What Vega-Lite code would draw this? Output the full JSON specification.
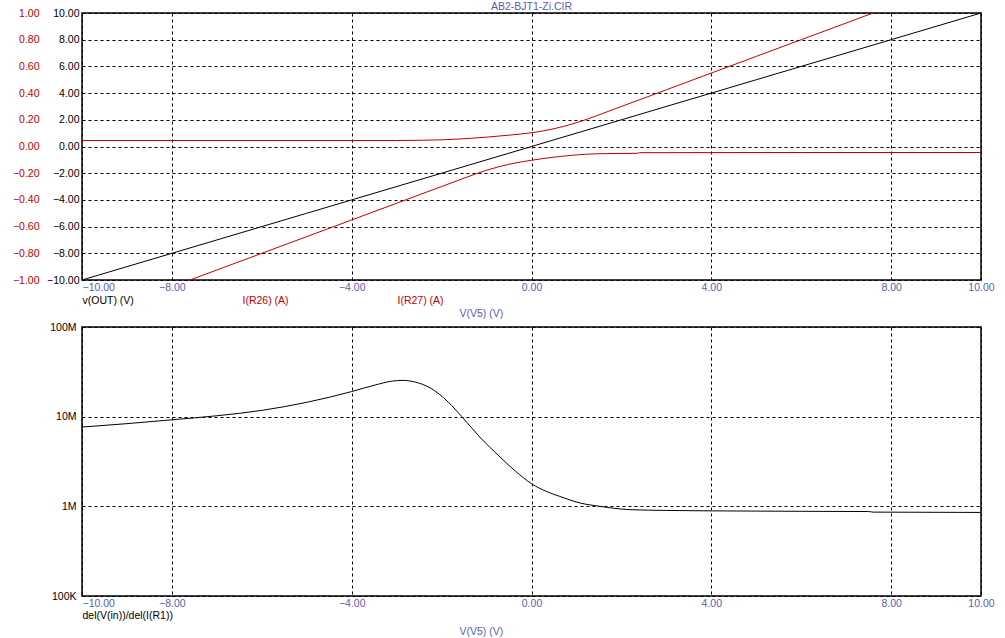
{
  "$schema": "https://vega.github.io/schema/vega-lite/v6.json",
  "background": "white",
  "padding": {"left": 11, "top": 0, "right": 5, "bottom": 2},
  "config": {
    "font": "Liberation Sans",
    "view": {"stroke": "black", "strokeWidth": 1.5},
    "axis": {
      "labelFont": "Liberation Sans",
      "labelFontSize": 10.5,
      "titleFont": "Liberation Sans",
      "titleFontSize": 10.5,
      "titleFontWeight": "normal",
      "ticks": false,
      "domain": false,
      "gridColor": "black",
      "gridDash": [3, 3],
      "gridOpacity": 1,
      "gridWidth": 1,
      "labelFlush": false,
      "labelOverlap": false
    }
  },
  "datasets": {
    "top": [
      {"s": "v(OUT) (V)", "v": -10, "y": -10},
      {"s": "v(OUT) (V)", "v": -5, "y": -5},
      {"s": "v(OUT) (V)", "v": 0, "y": 0},
      {"s": "v(OUT) (V)", "v": 5, "y": 5},
      {"s": "v(OUT) (V)", "v": 10, "y": 10},
      {"s": "I(R26) (A)", "v": -10, "y": 0.045},
      {"s": "I(R26) (A)", "v": -6, "y": 0.045},
      {"s": "I(R26) (A)", "v": -3, "y": 0.045},
      {"s": "I(R26) (A)", "v": -2.4, "y": 0.047},
      {"s": "I(R26) (A)", "v": -2, "y": 0.05},
      {"s": "I(R26) (A)", "v": -1.5, "y": 0.058},
      {"s": "I(R26) (A)", "v": -1, "y": 0.07},
      {"s": "I(R26) (A)", "v": -0.5, "y": 0.085},
      {"s": "I(R26) (A)", "v": 0, "y": 0.103},
      {"s": "I(R26) (A)", "v": 0.5, "y": 0.133},
      {"s": "I(R26) (A)", "v": 1, "y": 0.178},
      {"s": "I(R26) (A)", "v": 1.5, "y": 0.237},
      {"s": "I(R26) (A)", "v": 2, "y": 0.3},
      {"s": "I(R26) (A)", "v": 2.5, "y": 0.362},
      {"s": "I(R26) (A)", "v": 3, "y": 0.425},
      {"s": "I(R26) (A)", "v": 4, "y": 0.55},
      {"s": "I(R26) (A)", "v": 5, "y": 0.675},
      {"s": "I(R26) (A)", "v": 6, "y": 0.8},
      {"s": "I(R26) (A)", "v": 7, "y": 0.925},
      {"s": "I(R26) (A)", "v": 8, "y": 1.05},
      {"s": "I(R26) (A)", "v": 10, "y": 1.3},
      {"s": "I(R27) (A)", "v": -10, "y": -1.3},
      {"s": "I(R27) (A)", "v": -8, "y": -1.05},
      {"s": "I(R27) (A)", "v": -7, "y": -0.925},
      {"s": "I(R27) (A)", "v": -6, "y": -0.8},
      {"s": "I(R27) (A)", "v": -5, "y": -0.675},
      {"s": "I(R27) (A)", "v": -4, "y": -0.55},
      {"s": "I(R27) (A)", "v": -3, "y": -0.425},
      {"s": "I(R27) (A)", "v": -2.5, "y": -0.362},
      {"s": "I(R27) (A)", "v": -2, "y": -0.3},
      {"s": "I(R27) (A)", "v": -1.5, "y": -0.237},
      {"s": "I(R27) (A)", "v": -1, "y": -0.178},
      {"s": "I(R27) (A)", "v": -0.5, "y": -0.133},
      {"s": "I(R27) (A)", "v": 0, "y": -0.103},
      {"s": "I(R27) (A)", "v": 0.5, "y": -0.08},
      {"s": "I(R27) (A)", "v": 1, "y": -0.063},
      {"s": "I(R27) (A)", "v": 1.5, "y": -0.054},
      {"s": "I(R27) (A)", "v": 2.35, "y": -0.051},
      {"s": "I(R27) (A)", "v": 2.4, "y": -0.046},
      {"s": "I(R27) (A)", "v": 6, "y": -0.045},
      {"s": "I(R27) (A)", "v": 10, "y": -0.045}
    ],
    "bottom": [
      {"v": -10, "z": 7660000},
      {"v": -9, "z": 8360000},
      {"v": -8, "z": 9230000},
      {"v": -7, "z": 10230000},
      {"v": -6, "z": 11750000},
      {"v": -5, "z": 14450000},
      {"v": -4, "z": 19050000},
      {"v": -3.5, "z": 22400000},
      {"v": -3.1, "z": 24900000},
      {"v": -2.86, "z": 25400000},
      {"v": -2.6, "z": 24400000},
      {"v": -2.26, "z": 21000000},
      {"v": -1.85, "z": 14500000},
      {"v": -1.55, "z": 10000000},
      {"v": -1.15, "z": 5930000},
      {"v": -0.7, "z": 3550000},
      {"v": -0.35, "z": 2450000},
      {"v": 0, "z": 1790000},
      {"v": 0.34, "z": 1460000},
      {"v": 0.63, "z": 1290000},
      {"v": 1.08, "z": 1090000},
      {"v": 1.52, "z": 1000000},
      {"v": 2.19, "z": 918000},
      {"v": 3, "z": 900000},
      {"v": 4, "z": 890000},
      {"v": 5, "z": 885000},
      {"v": 6, "z": 880000},
      {"v": 7.5, "z": 875000},
      {"v": 7.6, "z": 862000},
      {"v": 10, "z": 855000}
    ]
  },
  "spacing": 47,
  "bounds": "flush",
  "resolve": {"scale": {"color": "independent"}, "legend": {"color": "independent"}},
  "vconcat": [
    {
      "width": 899,
      "height": 267,
      "title": {"text": "AB2-BJT1-Zi.CIR", "color": "#5c5cb0", "fontSize": 10.5, "fontWeight": "normal", "font": "Liberation Sans", "anchor": "middle", "frame": "group", "baseline": "middle", "offset": -9},
      "data": {"name": "top"},
      "resolve": {"scale": {"y": "independent"}, "axis": {"y": "independent"}},
      "layer": [
        {
          "transform": [{"filter": "datum.s === 'v(OUT) (V)'"}],
          "mark": {"type": "line", "strokeWidth": 1, "clip": true},
          "encoding": {
            "x": {"field": "v", "type": "quantitative", "scale": {"domain": [-10, 10], "nice": false},
              "axis": {"values": [-10, -8, -4, 0, 4, 8, 10], "format": ".2f", "labelColor": "#5c5cb0", "labelPadding": 2, "labelBaseline": "top",
                "labelAlign": {"condition": {"test": "datum.value === -10", "value": "left"}, "value": "center"},
                "grid": true, "title": "V(V5) (V)", "titleColor": "#5c5cb0", "titleX": 377, "titleY": 33, "titleAlign": "left", "titleBaseline": "middle"}},
            "y": {"field": "y", "type": "quantitative", "scale": {"domain": [-10, 10], "nice": false},
              "axis": {"orient": "left", "values": [-10, -8, -6, -4, -2, 0, 2, 4, 6, 8, 10], "format": ".2f", "labelColor": "black", "labelPadding": 3, "labelBaseline": "middle", "grid": true, "title": null}},
            "color": {"field": "s", "type": "nominal",
              "scale": {"domain": ["v(OUT) (V)", "I(R26) (A)", "I(R27) (A)"], "range": ["black", "#c00000", "#c00000"]},
              "legend": {"orient": "none", "legendX": -10, "legendY": 283, "direction": "horizontal", "columns": 3, "title": null,
                "symbolSize": 0, "symbolOpacity": 0, "symbolStrokeWidth": 0, "labelOffset": 0, "columnPadding": 98, "padding": 0,
                "labelFont": "Liberation Sans", "labelFontSize": 10.5,
                "encode": {"labels": {"update": {"fill": {"signal": "datum.value === 'v(OUT) (V)' ? 'black' : '#c00000'"}}}}}}
          }
        },
        {
          "transform": [{"filter": "datum.s !== 'v(OUT) (V)'"}],
          "mark": {"type": "line", "strokeWidth": 1, "clip": true, "interpolate": "monotone"},
          "encoding": {
            "x": {"field": "v", "type": "quantitative"},
            "y": {"field": "y", "type": "quantitative", "scale": {"domain": [-1, 1], "nice": false},
              "axis": {"orient": "left", "offset": 40, "values": [-1, -0.8, -0.6, -0.4, -0.2, 0, 0.2, 0.4, 0.6, 0.8, 1], "format": ".2f", "labelColor": "#c00000", "labelPadding": 3, "labelBaseline": "middle", "grid": false, "title": null}},
            "color": {"field": "s", "type": "nominal"}
          }
        }
      ]
    },
    {
      "width": 899,
      "height": 269,
      "data": {"name": "bottom"},
      "mark": {"type": "line", "strokeWidth": 1, "clip": true, "interpolate": "monotone"},
      "encoding": {
        "x": {"field": "v", "type": "quantitative", "scale": {"domain": [-10, 10], "nice": false},
          "axis": {"values": [-10, -8, -4, 0, 4, 8, 10], "format": ".2f", "labelColor": "#5c5cb0", "labelPadding": 2, "labelBaseline": "top",
            "labelAlign": {"condition": {"test": "datum.value === -10", "value": "left"}, "value": "center"},
            "grid": true, "title": "V(V5) (V)", "titleColor": "#5c5cb0", "titleX": 377, "titleY": 35, "titleAlign": "left", "titleBaseline": "middle"}},
        "y": {"field": "z", "type": "quantitative", "scale": {"type": "log", "domain": [100000, 100000000], "nice": false},
          "axis": {"values": [100000, 1000000, 10000000, 100000000], "labelExpr": "datum.value >= 50000000 ? '100M' : datum.value >= 5000000 ? '10M' : datum.value >= 500000 ? '1M' : '100K'", "labelColor": "black", "labelPadding": 6, "labelBaseline": "middle", "grid": true, "title": null}},
        "color": {"datum": "del(V(in))/del(I(R1))", "type": "nominal", "scale": {"range": ["black"]},
          "legend": {"orient": "none", "legendX": -10, "legendY": 284, "title": null, "symbolSize": 0, "symbolOpacity": 0, "symbolStrokeWidth": 0, "labelOffset": 0, "padding": 0,
            "labelFont": "Liberation Sans", "labelFontSize": 10.5, "labelColor": "black"}}
      }
    }
  ]
}
